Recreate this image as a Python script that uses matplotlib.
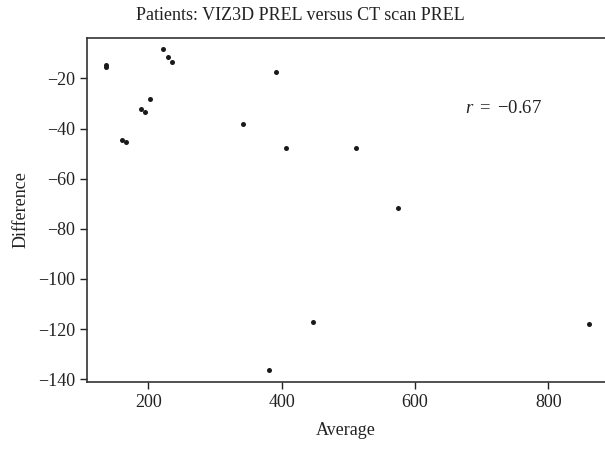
import matplotlib
matplotlib.use("Agg")
import matplotlib.pyplot as plt

# Data
average = [136, 136, 222.5, 229, 235, 391.5, 202.5, 189.5, 195.5, 160.5, 166.5,
           342.5, 406.5, 511.5, 574, 861.5, 381, 446.5]
difference = [-14.6, -15.4, -8.3, -11.4, -13.4, -17.4, -28.4, -32.4, -33.5, -44.4, -45.5,
              -38.4, -47.6, -47.6, -71.8, -117.9, -136.2, -117.0]
xticks = [200, 400, 600, 800]
yticks = [-20, -40, -60, -80, -100, -120, -140]
title = "Patients: VIZ3D PREL versus CT scan PREL"
annotation = "$r\\ =\\ {-}0.67$"

plt.rcParams['font.family'] = ['Liberation Serif', 'DejaVu Serif']
plt.rcParams['mathtext.fontset'] = 'custom'
plt.rcParams['mathtext.it'] = 'Liberation Serif:italic'
plt.rcParams['mathtext.rm'] = 'Liberation Serif'
plt.rcParams['axes.unicode_minus'] = True

fig = plt.figure(figsize=(6.05, 4.51), dpi=100)
ax = fig.add_axes([87.3/605, 1-381.7/451, 1-87.3/605, (381.7-37.5)/451])

ax.plot(average, difference, 'o', color='#1a1a1a', markersize=3.6, markeredgewidth=0)

ax.set_xlim(108.5, 885)
ax.set_ylim(-141, -3.7)
ax.set_xticks(xticks)
ax.set_yticks(yticks)
ax.tick_params(direction='out', length=5, width=1, labelsize=13, colors='#222222', pad=4)
for s in ['left', 'bottom', 'top']:
    ax.spines[s].set_linewidth(1.2)
    ax.spines[s].set_color('#333333')
ax.spines['right'].set_visible(False)

ax.set_xlabel("Average", fontsize=13, color='#222222', labelpad=8)
ax.set_ylabel("Difference", fontsize=13, color='#222222', labelpad=6)
fig.text(0.497, 1-15/451, title, fontsize=13, ha='center', va='center', color='#222222')
ax.text((465-87.3)/517.7, 0.793, annotation, transform=ax.transAxes, fontsize=13.5,
        ha='left', va='center', color='#222222')

fig.savefig("out.png", dpi=100)
